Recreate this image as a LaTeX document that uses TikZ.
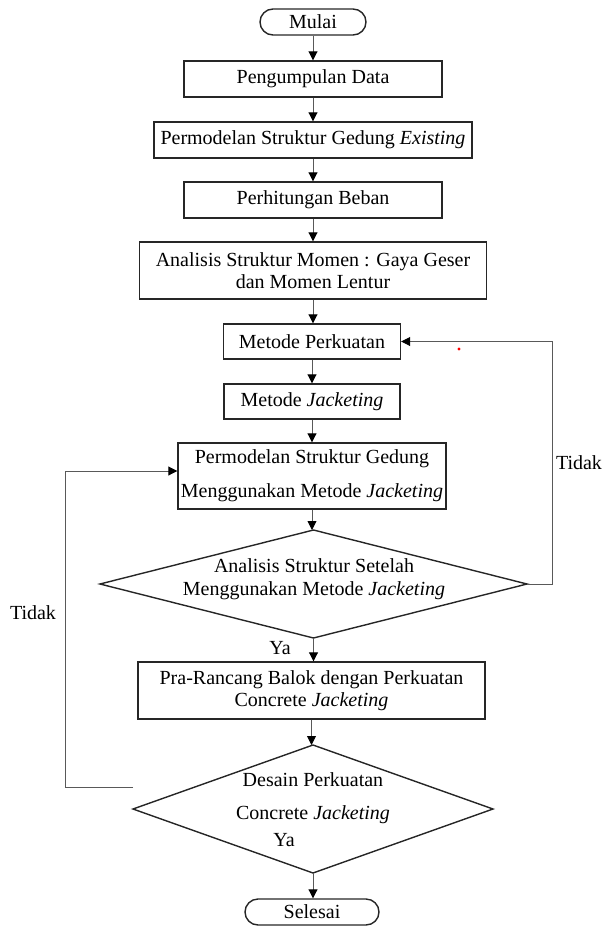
\documentclass[tikz,border=0pt]{standalone}
\usepackage{fontspec}
\setmainfont{Liberation Serif}
\usetikzlibrary{arrows.meta,shapes.geometric}
\begin{document}
\begin{tikzpicture}[x=1pt,y=-1pt,
  box/.style={draw=black!85,line width=1.4pt,rectangle,inner sep=0pt,align=center,font=\fontsize{20}{22}\selectfont},
  term/.style={box,rounded corners=13pt},
  dia/.style={draw=black!85,line width=1.4pt,diamond,inner sep=0pt,outer sep=0pt},
  txt/.style={inner sep=0pt,align=center,font=\fontsize{20}{23}\selectfont},
  conn/.style={draw=black!65,line width=0.9pt,-{Triangle[width=9pt,length=9pt,black]}},
  plainline/.style={draw=black!65,line width=0.9pt}]
\useasboundingbox (0,0) rectangle (604,927);
\node[term,minimum width=106pt,minimum height=26pt] (start) at (313,22) {Mulai};
\node[box,minimum width=258pt,minimum height=36pt] (n1) at (313,79) {Pengumpulan Data};
\node[box,minimum width=318pt,minimum height=36pt] (n2) at (313,140) {Permodelan Struktur Gedung \textit{Existing}};
\node[box,minimum width=258pt,minimum height=36pt] (n3) at (313,200) {Perhitungan Beban};
\node[box,minimum width=347pt,minimum height=57pt] (n4) at (313,270.5) {Analisis Struktur Momen : Gaya Geser\\dan Momen Lentur};
\node[box,minimum width=177pt,minimum height=35pt] (n5) at (312,341.5) {Metode Perkuatan};
\node[box,minimum width=176pt,minimum height=35pt] (n6) at (312,401.5) {Metode \textit{Jacketing}};
\node[box,minimum width=268pt,minimum height=66pt] (n7) at (312,476) {Permodelan Struktur Gedung\\[12pt]Menggunakan Metode \textit{Jacketing}};
\node[dia,minimum width=427pt,minimum height=108pt] (d1) at (313.5,584) {};
\node[txt] (t1) at (314,579) {Analisis Struktur Setelah\\Menggunakan Metode \textit{Jacketing}};
\node[box,minimum width=347pt,minimum height=57pt] (n8) at (311.5,690.5) {Pra-Rancang Balok dengan Perkuatan\\Concrete \textit{Jacketing}};
\node[dia,minimum width=360pt,minimum height=128pt] (d2) at (313,809) {};
\node[txt] (t2) at (313,798) {Desain Perkuatan\\[10pt]Concrete \textit{Jacketing}};
\node[txt] (ya2) at (284,840) {Ya};
\node[term,minimum width=134pt,minimum height=26pt] (end) at (312,912) {Selesai};
\node[txt] (ya1) at (280,648) {Ya};
\node[txt] (tidakR) at (579,463) {Tidak};
\node[txt] (tidakL) at (33,613) {Tidak};
\coordinate (lstart) at ([yshift=22pt]d2.west);
\draw[conn] (start.south) -- (start.south |- n1.north);
\draw[conn] (n1.south) -- (n1.south |- n2.north);
\draw[conn] (n2.south) -- (n2.south |- n3.north);
\draw[conn] (n3.south) -- (n3.south |- n4.north);
\draw[conn] (n4.south) -- (n4.south |- n5.north);
\draw[conn] (n5.south) -- (n5.south |- n6.north);
\draw[conn] (n6.south) -- (n6.south |- n7.north);
\draw[conn] (n7.south) -- (n7.south |- d1.north);
\draw[conn] (d1.south) -- (d1.south |- n8.north);
\draw[conn] (n8.south) -- (n8.south |- d2.north);
\draw[conn] (d2.south) -- (d2.south |- end.north);
\draw[conn] (d1.east) -- ++(25,0) |- (n5.east);
\draw[conn] (lstart) -- (65,787) |- ([yshift=5pt]n7.west);
\fill[red] (459,349) circle (1.6pt);
\end{tikzpicture}
\end{document}
